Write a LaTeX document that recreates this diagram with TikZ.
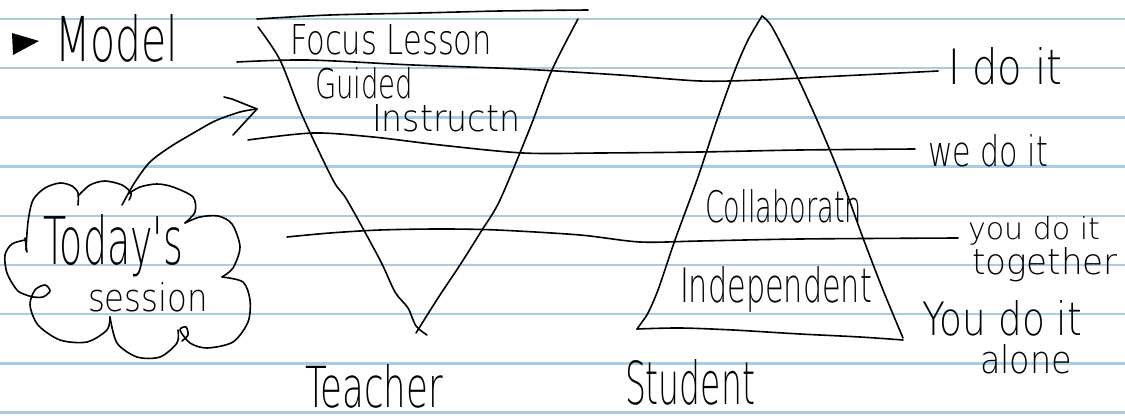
\documentclass[tikz,border=0pt]{standalone}
\usepackage{fontspec}
\usepackage{graphicx}
\newfontfamily\handfont{DejaVu Sans ExtraLight}
\definecolor{rulecol}{RGB}{168,204,226}
\newcommand\hw[3]{\resizebox{#1pt}{#2pt}{\handfont #3}}
\begin{document}
\begin{tikzpicture}[x=1pt,y=-1pt,
  ink/.style={line width=1.6pt, line cap=round, line join=round, black},
  ruling/.style={line width=2.4pt, rulecol},
  hand/.style={inner sep=0pt, outer sep=0pt, anchor=base west}]
\useasboundingbox (0,0) rectangle (1125,419);
\fill[white] (0,0) rectangle (1125,419);
% ruled paper
\foreach \y in {19,68.2,117.4,166.6,215.8,265,314.2,363.4,412.6}
  \draw[ruling] (0,\y) -- (1125,\y);
% bullet
\fill[black] (12,33) -- (39,41) -- (13,55) -- cycle;
% texts
\node[hand] (model) at (55,62) {\hw{123}{47}{Model}};
\node[hand] (focus) at (290,55) {\hw{202}{30}{Focus Lesson}};
\node[hand] (guided) at (315,99) {\hw{98}{31}{Guided}};
\node[hand] (instr) at (372,132) {\hw{148}{27}{Instructn}};
\node[hand] (collab) at (705,223) {\hw{157}{33}{Collaboratn}};
\node[hand] (indep) at (680,303) {\hw{192}{36}{Independent}};
\node[hand] (teacher) at (305,408) {\hw{138}{43}{Teacher}};
\node[hand] (student) at (625,405) {\hw{130}{45}{Student}};
\node[hand] (ido) at (948,85) {\hw{114}{37}{I do it}};
\node[hand] (wedo) at (928,167) {\hw{120}{32}{we do it}};
\node[hand] (youdo) at (968,240) {\hw{132}{23}{you do it}};
\node[hand] (together) at (972,275) {\hw{146}{27}{together}};
\node[hand] (youdo2) at (922,336) {\hw{160}{35}{You do it}};
\node[hand] (alone) at (980,374) {\hw{92}{29}{alone}};
\node[hand] (today) at (43,265) {\hw{140}{50}{Today's}};
\node[hand] (session) at (88,312) {\hw{120}{29}{session}};
% teacher inverted triangle
\draw[ink] plot[smooth] coordinates {(257,19) (330,15) (420,13) (500,11) (588,10)};
\draw[ink] plot[smooth] coordinates {(258,27) (280,60) (302,115) (333,180) (347,200) (380,260) (395,292) (408,308) (416,326) (427,335)};
\draw[ink] plot[smooth] coordinates {(578,19) (552,70) (530,128) (500,200) (482,230) (460,265) (438,298) (416,333)};
% student triangle
\draw[ink] plot[smooth] coordinates {(762,16) (748,40) (735,70) (717,120) (697,180) (675,240) (658,290) (648,313) (642,322) (637,329)};
\draw[ink] plot[smooth] coordinates {(762,16) (772,27) (795,72) (817,120) (840,175) (863,238) (883,290) (903,338)};
\draw[ink] plot[smooth] coordinates {(637,329) (680,328) (733,330) (800,334) (860,337) (903,340)};
% horizontal lines
\draw[ink] plot[smooth] coordinates {(237,62) (307,60) (413,65) (520,69) (620,75) (700,81) (760,80) (820,77) (880,74) (938,71)};
\draw[ink] plot[smooth] coordinates {(248,140) (313,133) (373,137) (440,145) (523,153) (600,153) (700,152) (800,150) (915,149)};
\draw[ink] plot[smooth] coordinates {(287,237) (330,233) (380,230) (440,229) (497,230) (580,235) (640,242) (700,241) (800,239) (958,238)};
% cloud
\draw[ink] plot[smooth] coordinates {(26,250) (28,222) (33,200) (45,188) (60,183) (72,186) (78,193) (78,205)};
\draw[ink] plot[smooth] coordinates {(78,196) (90,185) (105,181) (122,185) (131,193) (129,200)};
\draw[ink] plot[smooth] coordinates {(128,194) (140,187) (157,184) (173,187) (193,197) (195,212) (185,223)};
\draw[ink] plot[smooth] coordinates {(185,223) (200,217) (218,216) (232,224) (240,247) (233,268) (222,277)};
\draw[ink] plot[smooth] coordinates {(222,277) (243,282) (250,300) (248,322) (233,342) (207,348) (190,343) (180,330) (186,327) (188,335) (182,341)};
\draw[ink] plot[smooth] coordinates {(178,330) (177,343) (160,357) (137,357) (117,343) (110,317)};
\draw[ink] plot[smooth] coordinates {(110,317) (107,330) (87,342) (60,340) (38,325) (30,305) (35,290) (45,285) (50,291) (43,297) (33,297)};
\draw[ink] plot[smooth] coordinates {(33,297) (18,291) (7,273) (5,255) (12,244) (25,240)};
\draw[ink] (25,238) -- (27,252);
% arrow from cloud
\coordinate (arrowstart) at (122,205);
\coordinate (arrowtip) at (257,109);
\draw[ink] plot[smooth] coordinates {(arrowstart) (135,182) (150,162) (170,147) (190,135) (215,121) (240,112) (arrowtip)};
\draw[ink] (224,97) -- (232,99) -- (arrowtip) -- (233,135);
\end{tikzpicture}
\end{document}
